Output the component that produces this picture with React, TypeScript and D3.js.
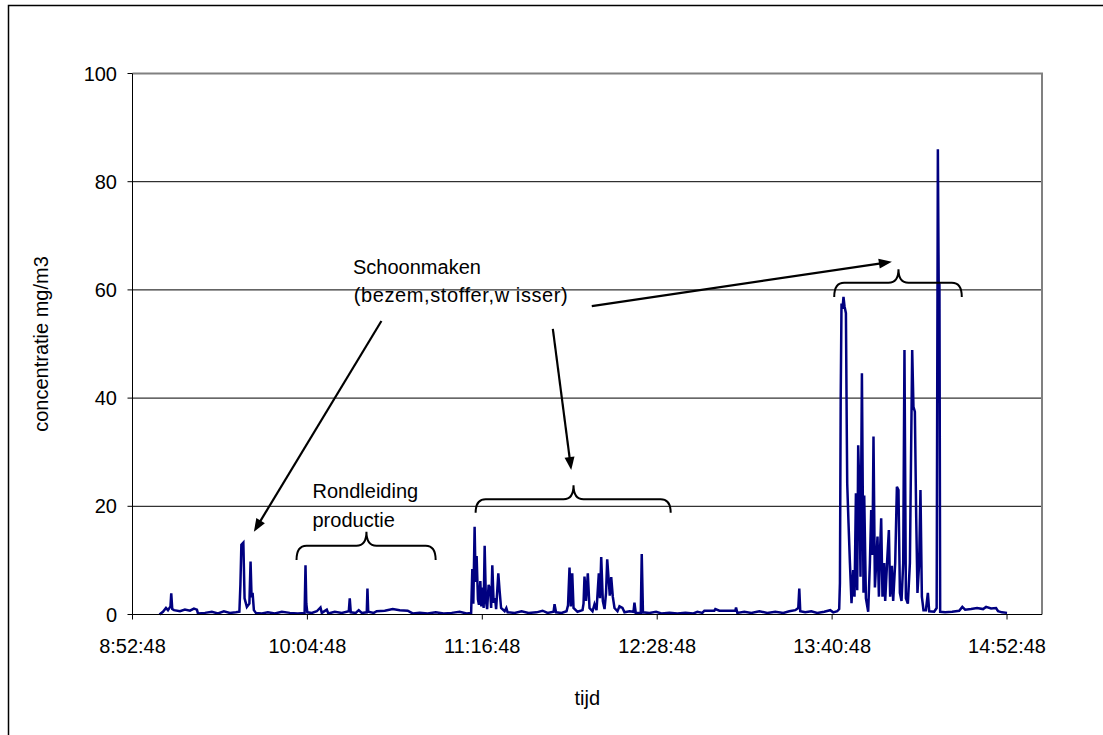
import React from 'react';
import * as d3 from 'd3';

const TIMES = [
"9:03:54","9:05:20","9:06:35","9:07:24","9:08:26","9:08:45","9:09:10","9:09:52","9:12:20","9:14:23",
"9:16:26","9:18:05","9:19:19","9:19:44","9:22:37","9:25:29","9:27:58","9:30:25","9:32:53","9:35:22",
"9:36:48","9:37:13","9:37:37","9:38:26","9:38:56","9:39:53","9:40:55","9:41:24","9:41:49","9:42:14",
"9:42:46","9:43:35","9:46:03","9:48:31","9:51:24","9:54:16","9:57:34","10:00:51","10:03:39","10:04:01",
"10:04:21","10:04:46","10:06:37","10:08:40","10:10:11","10:10:43","10:12:47","10:13:24","10:16:04","10:18:57",
"10:21:50","10:22:14","10:22:39","10:24:42","10:25:56","10:27:10","10:29:14","10:29:31","10:29:50","10:32:07",
"10:33:20","10:36:38","10:39:55","10:42:48","10:46:05","10:48:08","10:51:01","10:54:19","10:57:36","11:00:53",
"11:04:11","11:07:28","11:10:21","11:12:12",
"11:12:41","11:13:06","11:13:38","11:14:03","11:14:28","11:15:00","11:15:25","11:15:59","11:16:24","11:16:49",
"11:17:21","11:17:46","11:18:17","11:18:47","11:19:24","11:20:01","11:20:26","11:20:55","11:21:28","11:22:04",
"11:22:29","11:23:23","11:23:55","11:24:32","11:25:59","11:26:41","11:27:13","11:30:05","11:32:58","11:35:51",
"11:39:08","11:41:36","11:43:40","11:46:08","11:46:32","11:47:09","11:49:25","11:51:28","11:52:05","11:52:42",
"11:53:14","11:53:49","11:54:21","11:55:59","11:58:03","11:58:28","11:58:52","11:59:29","12:00:14","12:00:56",
"12:02:10","12:02:59","12:03:49","12:04:46","12:05:15","12:05:45","12:06:25","12:07:07","12:07:44","12:08:13",
"12:08:53","12:09:17","12:09:52","12:10:31","12:11:13","12:12:27","12:13:16","12:14:30","12:15:20","12:17:23",
"12:19:02","12:19:26","12:19:58","12:22:02","12:22:26","12:22:56","12:25:36","12:28:21","12:30:32","12:33:49",
"12:37:07","12:40:24","12:43:41","12:45:20","12:47:23","12:48:13","12:52:19","12:52:44","12:54:23","13:00:58",
"13:01:15","13:01:47","13:04:40","13:07:32","13:10:50","13:14:07","13:17:25","13:20:42","13:23:10","13:25:38",
"13:26:52","13:27:17","13:27:41","13:29:44","13:32:13","13:34:41","13:37:34","13:40:01","13:41:16","13:42:54",
"13:43:43",
"13:44:01","13:44:20","13:44:40","13:45:05","13:45:29","13:45:54","13:46:29","13:46:49","13:47:01","13:47:33",
"13:48:08","13:48:47","13:49:29","13:50:01","13:50:36","13:51:08","13:51:32","13:52:05","13:52:29","13:53:04",
"13:53:43","13:54:01","13:54:43","13:55:39","13:56:21","13:56:53","13:57:25","13:57:50","13:58:25","13:58:57",
"13:59:29","14:00:04","14:00:28","14:01:00","14:01:32","14:02:14","14:02:39","14:03:28","14:04:10","14:04:42",
"14:05:24","14:05:56","14:06:46","14:07:28","14:08:07","14:08:42","14:09:22","14:10:04","14:10:35","14:11:10",
"14:11:59","14:12:49","14:13:46","14:14:17","14:14:52","14:15:25","14:15:56","14:16:38","14:17:10","14:17:45",
"14:18:25","14:19:24","14:20:13","14:20:46","14:22:49","14:23:50","14:24:20","14:24:40","14:24:59","14:25:17",
"14:27:20","14:30:13","14:33:06","14:34:24","14:35:34","14:38:00","14:40:28","14:42:56","14:44:11","14:46:14",
"14:48:17","14:49:07","14:50:46","14:52:49"
];

const VALUES = [
0.0,0.5,1.2,0.8,1.5,3.9,1.0,0.8,0.6,0.9,
0.7,1.1,0.9,0.2,0.3,0.5,0.2,0.6,0.3,0.4,
0.5,5.5,12.9,13.3,3.0,1.4,2.0,9.8,3.2,4.0,
0.8,0.3,0.2,0.4,0.2,0.5,0.3,0.2,0.3,9.1,
2.0,0.4,0.3,0.6,1.3,0.3,0.9,0.2,0.5,0.3,
0.6,3.0,0.4,0.3,0.8,0.3,0.4,4.8,0.5,0.3,
0.6,0.7,1.0,0.8,0.7,0.2,0.3,0.2,0.4,0.2,
0.3,0.5,0.2,0.3,
8.4,2.0,16.2,6.0,10.8,2.8,1.8,6.2,1.5,5.0,
1.2,12.7,2.5,1.0,5.5,4.6,1.2,9.1,2.2,3.0,
1.0,7.6,4.4,1.2,0.6,1.2,0.4,0.3,0.6,0.3,
0.4,0.7,0.3,0.5,1.9,0.4,0.3,0.6,1.7,8.7,
1.5,7.6,1.2,0.5,0.8,2.0,7.0,2.5,7.6,1.2,
0.6,1.9,0.8,7.6,3.0,10.6,2.5,1.0,4.0,10.2,
6.0,3.5,6.9,3.3,1.2,0.6,1.5,1.2,0.4,0.6,
0.5,2.2,0.3,0.3,11.2,0.4,0.3,0.5,0.2,0.3,
0.2,0.3,0.2,0.5,0.3,0.7,0.7,1.0,0.7,0.7,
1.3,0.3,0.5,0.3,0.6,0.3,0.5,0.3,0.6,0.8,
1.2,4.8,0.6,0.4,0.6,0.3,0.5,0.8,0.4,0.6,
1.0,
5.8,40,57.5,56.5,58.7,57.0,55.7,35,24.2,16.9,
9.5,2.1,8.2,3.3,22.4,4.5,31.3,22,7,44.6,
4.0,22,3.0,0.5,9.5,19.3,11,32.9,5,9.5,
14.4,3.3,11,17.8,3.3,9.5,2.5,10,15.6,3.3,
9.0,2.5,9.5,23.6,23.0,4.0,2.5,9.5,48.9,3.0,
2.0,9.5,48.9,38.4,37.5,18,4.0,9.5,23,3.3,
0.8,0.8,4.0,0.6,0.5,1.2,86,61.5,61,0.5,
0.4,0.5,0.7,1.4,0.9,1.0,1.2,1.0,1.4,1.1,
1.2,0.6,0.4,0.3
];

const Y_TICKS = [0, 20, 40, 60, 80, 100];
const X_TICK_LABELS = ["8:52:48", "10:04:48", "11:16:48", "12:28:48", "13:40:48", "14:52:48"];
const X_DOMAIN = ["8:52:48", "15:07:12"];
const Y_TITLE = "concentratie mg/m3";
const X_TITLE = "tijd";

// annotations in data coordinates: [time, value]
const TEXTS = [
  { text: "Schoonmaken", t: "10:23:35", v: 62.9 },
  { text: "(bezem,stoffer,w isser)", t: "10:23:52", v: 57.8 },
  { text: "Rondleiding", t: "10:06:54", v: 21.5 },
  { text: "productie", t: "10:06:54", v: 16.2 },
];
const ARROWS = [
  { t1: "10:35:16", v1: 54.25, t2: "9:42:46", v2: 15.3 },
  { t1: "11:45:50", v1: 52.8, t2: "11:53:24", v2: 26.7 },
  { t1: "12:01:52", v1: 57.0, t2: "14:05:24", v2: 65.2 },
];
const BRACES = [
  { t1: "10:00:19", t2: "10:57:36", tm: "10:29:06", vEnd: 10.07, vMid: 12.72, vTip: 15.3 },
  { t1: "11:14:03", t2: "12:34:21", tm: "11:54:21", vEnd: 18.8, vMid: 21.3, vTip: 23.9 },
  { t1: "13:41:40", t2: "14:34:11", tm: "14:08:07", vEnd: 58.7, vMid: 61.3, vTip: 63.8 },
];

const parse = d3.timeParse("%H:%M:%S");
const FONT = "'Liberation Sans', Arial, sans-serif";

export default function App() {
  const W = 1103, H = 735;
  const left = 132.5, right = 1042, top = 73.5, bottom = 614.5;
  const x = d3.scaleTime().domain(X_DOMAIN.map((s) => parse(s) as Date)).range([left, right]);
  const y = d3.scaleLinear().domain([0, 100]).range([bottom, top]);
  const data = TIMES.map((t, i) => ({ t: parse(t) as Date, v: VALUES[i] }));
  const line = d3.line<{ t: Date; v: number }>().x((d) => x(d.t)).y((d) => y(d.v));
  const X = (s: string) => x(parse(s) as Date);

  const bracePath = (b: typeof BRACES[number]) => {
    const x1 = X(b.t1), x2 = X(b.t2), xm = X(b.tm);
    const ye = y(b.vEnd), ym = y(b.vMid), yt = y(b.vTip);
    const r = 10;
    return `M${x1},${ye} Q${x1},${ym} ${x1 + r},${ym} L${xm - r},${ym} Q${xm},${ym} ${xm},${yt} Q${xm},${ym} ${xm + r},${ym} L${x2 - r},${ym} Q${x2},${ym} ${x2},${ye}`;
  };

  return (
    <svg width={W} height={H} style={{ position: 'absolute', left: 0, top: 0, background: '#fff' }} fontFamily={FONT}>
      <rect x={0} y={0} width={W} height={H} fill="#fff" />
      {/* outer chart frame */}
      <path d={`M8.5,${H + 5} L8.5,5.5 L${W + 5},5.5`} fill="none" stroke="#000" strokeWidth={1.5} />
      {/* gridlines */}
      {Y_TICKS.filter((v) => v > 0 && v < 100).map((v) => (
        <line key={v} x1={left} x2={right} y1={y(v)} y2={y(v)} stroke="#000" strokeWidth={1} />
      ))}
      {/* plot border top/right */}
      <path d={`M${left},${top} L${right},${top} L${right},${bottom}`} fill="none" stroke="#808080" strokeWidth={2} />
      {/* data */}
      <path d={line(data) || ''} fill="none" stroke="#000080" strokeWidth={2.5} strokeLinejoin="miter" />
      {/* axes */}
      <line x1={left} x2={left} y1={top} y2={bottom} stroke="#000" strokeWidth={1} />
      <line x1={left} x2={right} y1={bottom} y2={bottom} stroke="#000" strokeWidth={1} />
      {Y_TICKS.map((v) => (
        <g key={v}>
          <line x1={left - 5} x2={left} y1={y(v)} y2={y(v)} stroke="#000" />
          <text x={117} y={y(v) + 7} textAnchor="end" fontSize={20} fill="#000">{v}</text>
        </g>
      ))}
      {X_TICK_LABELS.map((s) => (
        <g key={s}>
          <line x1={X(s)} x2={X(s)} y1={bottom} y2={bottom + 5} stroke="#000" />
          <text x={X(s)} y={652.5} textAnchor="middle" fontSize={20} fill="#000">{s}</text>
        </g>
      ))}
      <text x={(left + right) / 2} y={705} textAnchor="middle" fontSize={20} fill="#000">{X_TITLE}</text>
      <text transform={`translate(48,${(top + bottom) / 2}) rotate(-90)`} textAnchor="middle" fontSize={20} fill="#000">{Y_TITLE}</text>
      {/* annotations */}
      {TEXTS.map((a, i) => (
        <text key={i} x={X(a.t)} y={y(a.v)} fontSize={20} fill="#000" letterSpacing={i === 1 ? 0.6 : 0}>{a.text}</text>
      ))}
      {ARROWS.map((a, i) => {
        const x1 = X(a.t1), y1 = y(a.v1), x2 = X(a.t2), y2 = y(a.v2);
        const dx = x2 - x1, dy = y2 - y1, len = Math.hypot(dx, dy);
        const ux = dx / len, uy = dy / len;
        const hl = 13, hw = 5;
        const bx = x2 - ux * hl, by = y2 - uy * hl;
        const pts = `${x2},${y2} ${bx - uy * hw},${by + ux * hw} ${bx + uy * hw},${by - ux * hw}`;
        return (
          <g key={i}>
            <line x1={x1} y1={y1} x2={bx + ux * 2} y2={by + uy * 2} stroke="#000" strokeWidth={2.2} />
            <polygon points={pts} fill="#000" />
          </g>
        );
      })}
      {BRACES.map((b, i) => (
        <path key={i} d={bracePath(b)} fill="none" stroke="#000" strokeWidth={2} />
      ))}
    </svg>
  );
}
